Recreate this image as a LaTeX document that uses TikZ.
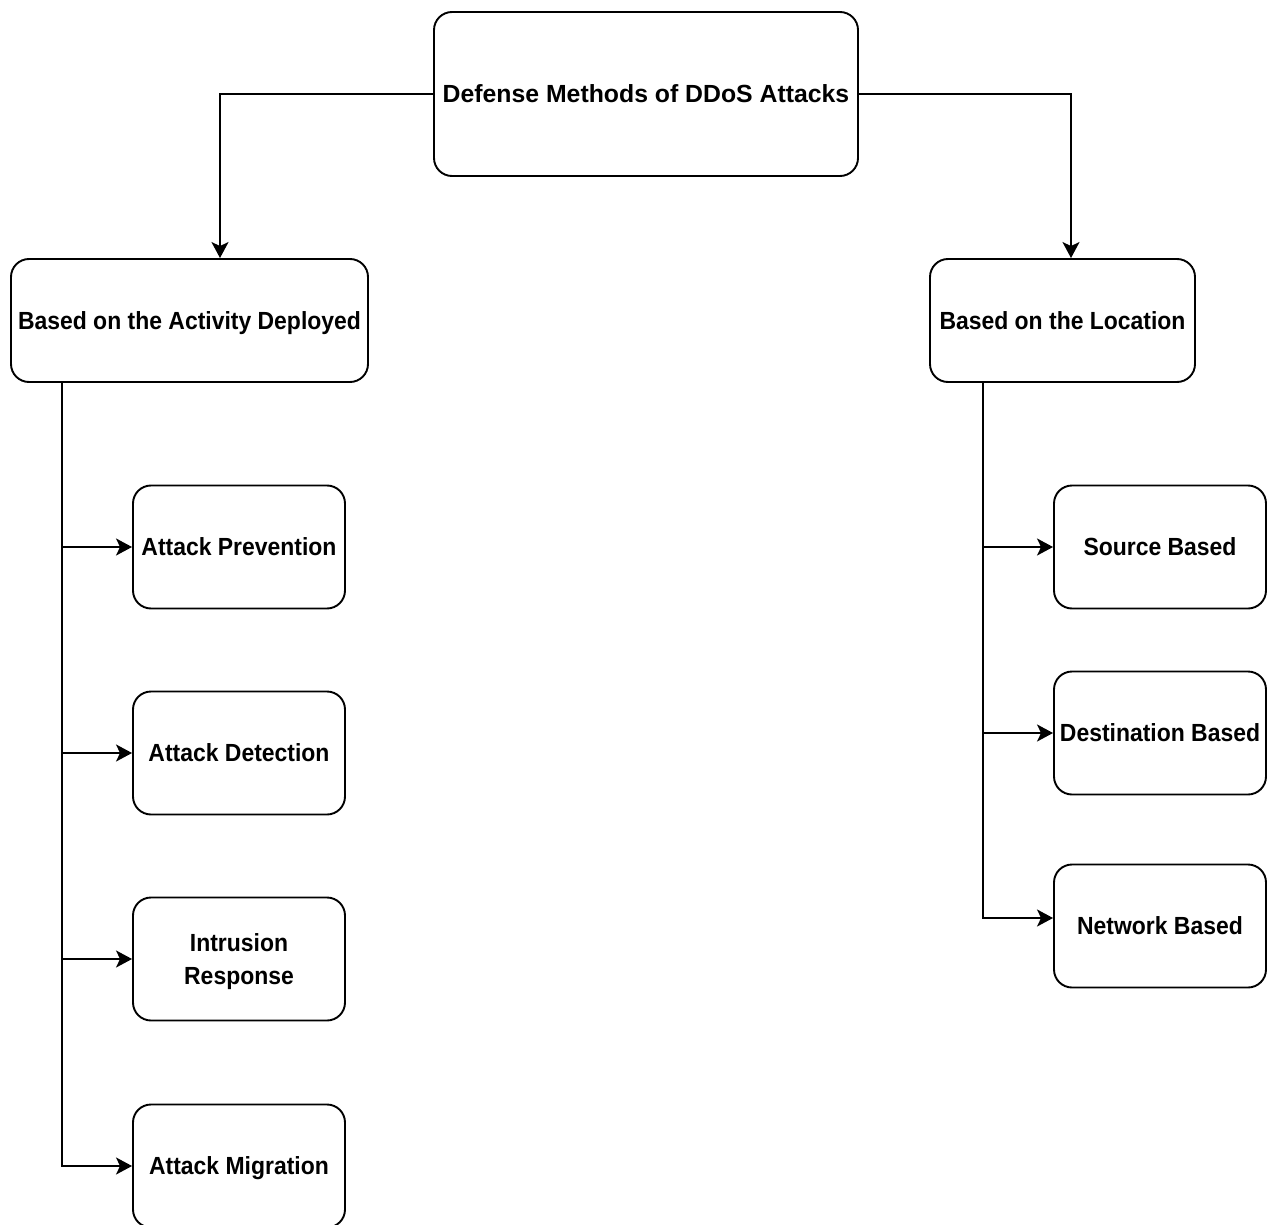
\documentclass[tikz,border=0pt]{standalone}
\usepackage{fontspec}
\setmainfont{Liberation Sans}
\usetikzlibrary{arrows.meta}
\newcommand{\narrow}[1]{\scalebox{0.925}[1]{#1}}
\begin{document}
\begin{tikzpicture}[x=1pt,y=-1pt,
  box/.style={draw, line width=1.9pt, rounded corners=18pt, fill=white,
    align=center, inner sep=0pt,
    font=\fontsize{24.8}{33}\selectfont\bfseries},
  one/.style={text height=17.8pt, text depth=0pt},
  leaf/.style={box, one, minimum width=212pt, minimum height=123pt},
  link/.style={line width=1.9pt, -{Stealth[length=16pt,width=17pt,inset=4pt]}}]
\useasboundingbox[fill=white] (0,0) rectangle (1269,1225);

% boxes: centre and size in pixels
\node[box, one, minimum width=424pt, minimum height=164pt] (root) at (646,94) {Defense Methods of DDoS Attacks};
\node[box, one, minimum width=357pt, minimum height=123pt] (act) at (189.5,320.5) {\narrow{Based on the Activity Deployed}};
\node[box, one, minimum width=265pt, minimum height=123pt] (loc) at (1062.5,320.5) {\narrow{Based on the Location}};

\node[leaf] (prev) at (239,547) {\narrow{Attack Prevention}};
\node[leaf] (det) at (239,753) {\narrow{Attack Detection}};
\node[box, text depth=0pt, minimum width=212pt, minimum height=123pt] (resp) at (239,959) {\narrow{Intrusion}\\\narrow{Response}};
\node[leaf] (mig) at (239,1166) {\narrow{Attack Migration}};

\node[leaf] (src) at (1160,547) {\narrow{Source Based}};
\node[leaf] (dst) at (1160,733) {\narrow{Destination Based}};
\node[leaf] (net) at (1160,926) {\narrow{Network Based}};

% root to the two categories
\draw[link] (root.west) -| (act.north -| 220,0);
\draw[link] (root.east) -| (loc.north -| 1071,0);

% left trunk with its branches
\coordinate (lt) at (62,382);
\draw[link] (prev.west -| lt) -- (prev.west);
\draw[link] (det.west -| lt) -- (det.west);
\draw[link] (resp.west -| lt) -- (resp.west);
\draw[link] (lt) |- (mig.west);

% right trunk with its branches; the last one meets its box above the middle
\coordinate (rt) at (983,382);
\draw[link] (src.west -| rt) -- (src.west);
\draw[link] (dst.west -| rt) -- (dst.west);
\draw[link] (rt) |- ([yshift=8pt]net.west);
\end{tikzpicture}
\end{document}
